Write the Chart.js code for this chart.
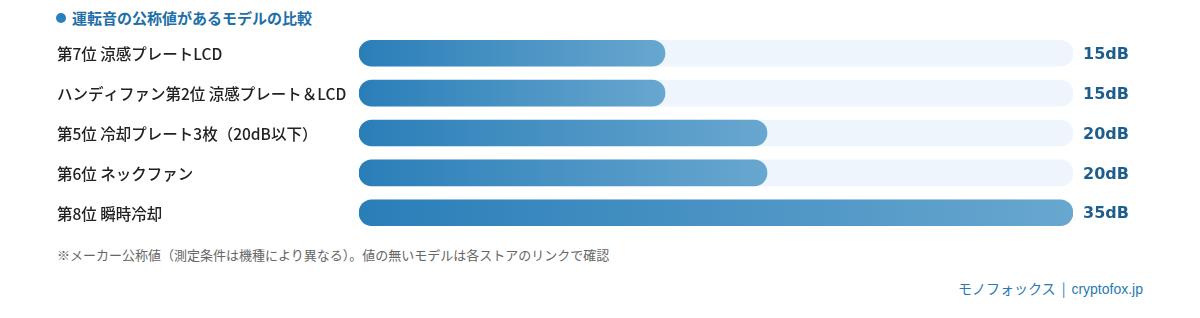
<!DOCTYPE html>
<html lang="ja">
<head>
<meta charset="utf-8">
<script src="https://cdn.jsdelivr.net/npm/chart.js@4.4.1/dist/chart.umd.min.js"></script>
<style>
    body {
        margin: 0;
        width: 1200px;
        height: 318px;
        background: #ffffff;
        font-family: "Noto Sans CJK JP", sans-serif;
        position: relative;
        overflow: hidden;
    }
    .title {
        position: absolute;
        left: 56px;
        top: 7px;
        font-size: 15px;
        font-weight: bold;
        color: #1e6ea8;
        line-height: 22px;
    }
    .title .dot {
        display: inline-block;
        width: 10px;
        height: 10px;
        border-radius: 50%;
        background: #2a80bf;
        margin-right: 6px;
        vertical-align: 1px;
    }
    .chart-box {
        position: absolute;
        left: 0;
        top: 24px;
        width: 1200px;
        height: 218px;
    }
    .note {
        position: absolute;
        left: 57px;
        top: 245px;
        font-size: 13px;
        color: #666;
        line-height: 20px;
    }
    .source {
        position: absolute;
        right: 57px;
        top: 278px;
        font-size: 14px;
        color: #2a7ab5;
        line-height: 20px;
    }
    .source .sep {
        margin: 0 6px;
    }
    .source .url {
        font-family: "Liberation Sans", sans-serif;
    }
</style>
</head>
<body>
<div class="title"><span class="dot"></span>運転音の公称値があるモデルの比較</div>
<div class="chart-box"><canvas id="chartNoise"></canvas></div>
<div class="note">※メーカー公称値（測定条件は機種により異なる）。値の無いモデルは各ストアのリンクで確認</div>
<div class="source">モノフォックス<span class="sep">|</span><span class="url">cryptofox.jp</span></div>

<script>
// Data
const models = [
    '第7位 涼感プレートLCD',
    'ハンディファン第2位 涼感プレート＆LCD',
    '第5位 冷却プレート3枚（20dB以下）',
    '第6位 ネックファン',
    '第8位 瞬時冷却'
];
const noiseDb = [15, 15, 20, 20, 35];
const scaleMax = 35;
const trackValues = models.map(() => scaleMax);

// Gradient for each bar, from its start to its end
function barGradient(context) {
    const chart = context.chart;
    const xScale = chart.scales.x;
    if (!xScale || !chart.chartArea) return '#2b7fb8';
    const value = context.raw;
    const x0 = xScale.getPixelForValue(0);
    const x1 = xScale.getPixelForValue(value);
    const grad = chart.ctx.createLinearGradient(x0, 0, x1, 0);
    grad.addColorStop(0, '#2a7eb8');
    grad.addColorStop(1, '#68a7cf');
    return grad;
}

// Value labels on the right
const valueLabels = {
    id: 'valueLabels',
    afterDatasetsDraw(chart) {
        const ctx = chart.ctx;
        const meta = chart.getDatasetMeta(1);
        ctx.save();
        ctx.font = 'bold 16px "DejaVu Sans", sans-serif';
        ctx.fillStyle = '#1d5e8c';
        ctx.textAlign = 'left';
        ctx.textBaseline = 'middle';
        meta.data.forEach((bar, i) => {
            ctx.fillText(noiseDb[i] + 'dB', chart.chartArea.right + 10, bar.y + 1.5);
        });
        ctx.restore();
    }
};

const ctx = document.getElementById('chartNoise');
new Chart(ctx, {
    type: 'bar',
    data: {
        labels: models,
        datasets: [
            {
                label: 'track',
                data: trackValues,
                backgroundColor: '#eef5fc',
                borderRadius: 13,
                borderSkipped: false,
                barThickness: 26,
                grouped: false,
                order: 2
            },
            {
                label: '運転音 (dB)',
                data: noiseDb,
                backgroundColor: barGradient,
                borderRadius: 13,
                borderSkipped: false,
                barThickness: 26,
                grouped: false,
                order: 1
            }
        ]
    },
    options: {
        indexAxis: 'y',
        responsive: true,
        maintainAspectRatio: false,
        animation: false,
        layout: {
            padding: { left: 57, right: 127, top: 0, bottom: 0 }
        },
        plugins: {
            legend: { display: false },
            tooltip: { enabled: false }
        },
        scales: {
            x: {
                display: false,
                min: 0,
                max: scaleMax
            },
            y: {
                grid: { display: false },
                border: { display: false },
                afterFit: function(scale) {
                    scale.width = 302;
                },
                ticks: {
                    crossAlign: 'far',
                    padding: 0,
                    labelOffset: 1,
                    color: '#222',
                    font: {
                        size: 15.5,
                        weight: '500',
                        family: '"Noto Sans CJK JP", sans-serif'
                    }
                }
            }
        }
    },
    plugins: [valueLabels]
});
</script>
</body>
</html>
